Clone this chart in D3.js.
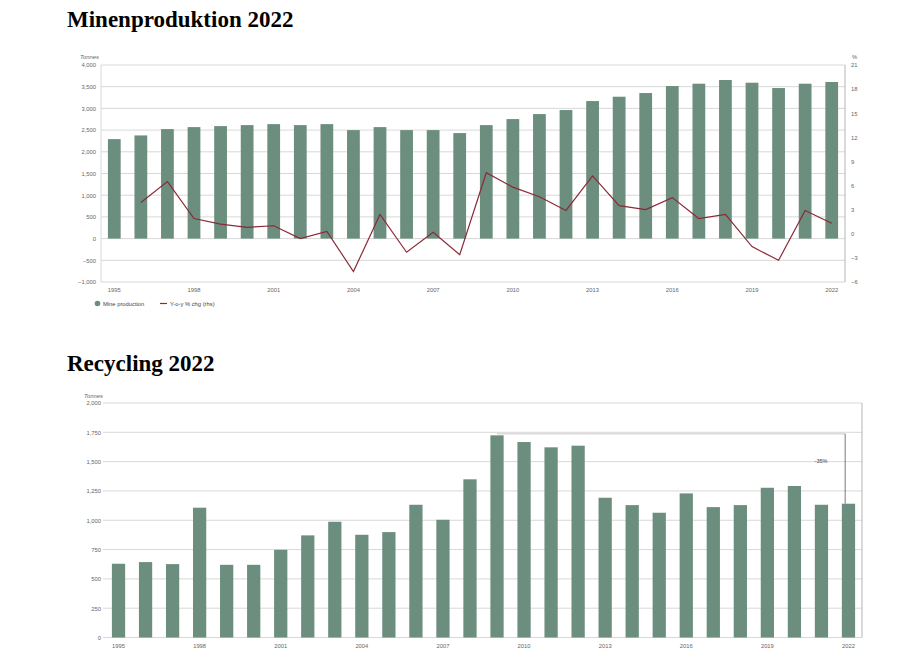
<!DOCTYPE html>
<html><head><meta charset="utf-8">
<script src="https://cdn.jsdelivr.net/npm/d3@7"></script>
<style>
body{margin:0;background:#fff;}
svg{display:block;}
.tick text{font-family:"Liberation Sans",Arial,sans-serif;}
</style></head>
<body><svg id="c" width="923" height="661"></svg>
<script>
const years = d3.range(1995, 2023).map(String);
const mineProduction = [2292,2377,2523,2569,2592,2615,2638,2615,2638,2500,2569,2500,2500,2431,2615,2754,2869,2962,3169,3269,3354,3515,3569,3654,3592,3469,3569,3608];
const yoyChange = [null,3.9,6.5,1.9,1.2,0.8,1.0,-0.6,0.3,-4.7,2.4,-2.3,0.2,-2.6,7.6,5.8,4.6,2.9,7.2,3.5,3.0,4.5,1.9,2.4,-1.6,-3.3,2.9,1.3];
const recycling = [629,643,626,1107,620,620,748,871,987,876,899,1132,1004,1349,1724,1667,1622,1636,1192,1129,1064,1229,1112,1129,1277,1292,1132,1141];
const xTickYears = ["1995","1998","2001","2004","2007","2010","2013","2016","2019","2022"];
const leftTicksTop = [-1000,-500,0,500,1000,1500,2000,2500,3000,3500,4000];
const rightTicksTop = [-6,-3,0,3,6,9,12,15,18,21];
const leftTicksBottom = [0,250,500,750,1000,1250,1500,1750,2000];
const titles = ["Minenproduktion 2022","Recycling 2022"];
const legendLabels = ["Mine production","Y-o-y % chg (rhs)"];
const annotationText = "-35%";

const BAR = "#6b8e7e", LINE = "#8a2a36", GRID = "#d8d8d8", AX = "#b5b5b5", TXT = "#666";
const FONT = "'Liberation Sans', Arial, sans-serif";
const svg = d3.select("#c");
const fmt = d3.format(",");

function title(t, x, y){
  svg.append("text").attr("x",x).attr("y",y).text(t)
    .attr("font-family","'Liberation Serif','Times New Roman',serif")
    .attr("font-weight","bold").attr("font-size",23).attr("fill","#000");
}
function styleAxis(g){
  g.select(".domain").remove();
  g.selectAll(".tick line").remove();
  g.selectAll(".tick text").attr("font-size",5.8).attr("fill",TXT).attr("font-family",FONT);
}

// ---------- Top chart ----------
title(titles[0], 67, 27);
const T = {l:101, r:845, t:65, b:282};
const xT = d3.scaleBand().domain(years).range([T.l, T.r]).paddingInner(0.52).paddingOuter(0.26);
const yL = d3.scaleLinear().domain([-1000,4000]).range([T.b, T.t]);
const yR = d3.scaleLinear().domain([-6,21]).range([T.b, T.t]);

svg.append("g").selectAll("line").data(leftTicksTop).join("line")
  .attr("x1",T.l).attr("x2",T.r).attr("y1",d=>yL(d)).attr("y2",d=>yL(d))
  .attr("stroke",GRID).attr("stroke-width",1);
svg.append("line").attr("x1",T.l).attr("x2",T.l).attr("y1",T.t).attr("y2",T.b).attr("stroke",GRID);
svg.append("line").attr("x1",T.r).attr("x2",T.r).attr("y1",T.t).attr("y2",T.b).attr("stroke",AX);

svg.append("g").selectAll("rect").data(mineProduction).join("rect")
  .attr("x",(d,i)=>xT(years[i])).attr("width",xT.bandwidth())
  .attr("y",d=>yL(d)).attr("height",d=>yL(0)-yL(d)).attr("fill",BAR);

const lineGen = d3.line().defined(d=>d.v!==null)
  .x(d=>xT(d.y)+xT.bandwidth()/2).y(d=>yR(d.v));
svg.append("path").datum(years.map((y,i)=>({y, v:yoyChange[i]})))
  .attr("d",lineGen).attr("fill","none").attr("stroke",LINE).attr("stroke-width",1.2);

svg.append("g").attr("transform",`translate(${T.l-5},0)`)
  .call(d3.axisLeft(yL).tickValues(leftTicksTop).tickFormat(fmt).tickSize(0).tickPadding(0))
  .call(styleAxis);
svg.append("g").attr("transform",`translate(${T.r+6},0)`)
  .call(d3.axisRight(yR).tickValues(rightTicksTop).tickSize(0).tickPadding(0))
  .call(styleAxis);
svg.append("g").attr("transform",`translate(0,${T.b+3})`)
  .call(d3.axisBottom(xT).tickValues(xTickYears).tickSize(0).tickPadding(3))
  .call(styleAxis);
svg.append("text").attr("x",80).attr("y",59).text("Tonnes").attr("font-size",5.8).attr("fill",TXT).attr("font-family",FONT).attr("font-style","italic");
svg.append("text").attr("x",852).attr("y",59).text("%").attr("font-size",5.8).attr("fill",TXT).attr("font-family",FONT);

// legend
svg.append("circle").attr("cx",97.5).attr("cy",303.5).attr("r",2.8).attr("fill",BAR);
svg.append("text").attr("x",103).attr("y",305.5).text(legendLabels[0]).attr("font-size",5.8).attr("fill","#444").attr("font-family",FONT);
svg.append("line").attr("x1",160).attr("x2",167).attr("y1",303.5).attr("y2",303.5).attr("stroke",LINE).attr("stroke-width",1.2);
svg.append("text").attr("x",170).attr("y",305.5).text(legendLabels[1]).attr("font-size",5.8).attr("fill","#444").attr("font-family",FONT);

// ---------- Bottom chart ----------
title(titles[1], 67, 371);
const B = {l:105, r:862, t:403, b:637.5};
const xB = d3.scaleBand().domain(years).range([B.l, B.r]).paddingInner(0.51).paddingOuter(0.255);
const yB = d3.scaleLinear().domain([0,2000]).range([B.b, B.t]);

svg.append("g").selectAll("line").data(leftTicksBottom).join("line")
  .attr("x1",103).attr("x2",B.r).attr("y1",d=>yB(d)).attr("y2",d=>yB(d))
  .attr("stroke",GRID).attr("stroke-width",1);
svg.append("line").attr("x1",B.r).attr("x2",B.r).attr("y1",B.t).attr("y2",B.b).attr("stroke",AX);

svg.append("g").selectAll("rect").data(recycling).join("rect")
  .attr("x",(d,i)=>xB(years[i])).attr("width",xB.bandwidth())
  .attr("y",d=>yB(d)).attr("height",d=>yB(0)-yB(d)).attr("fill",BAR);

svg.append("g").attr("transform",`translate(101,0)`)
  .call(d3.axisLeft(yB).tickValues(leftTicksBottom).tickFormat(fmt).tickSize(0).tickPadding(0))
  .call(styleAxis);
svg.append("g").attr("transform",`translate(0,${B.b+3})`)
  .call(d3.axisBottom(xB).tickValues(xTickYears).tickSize(0).tickPadding(3))
  .call(styleAxis);
svg.append("text").attr("x",84).attr("y",398).text("Tonnes").attr("font-size",5.8).attr("fill",TXT).attr("font-family",FONT).attr("font-style","italic");

// annotation: peak 2009 vs 2022
const peakIdx = years.indexOf("2009"), lastIdx = years.indexOf("2022");
const ax0 = xB(years[peakIdx]) + xB.bandwidth()/2;
const ax1 = xB(years[lastIdx]) + xB.bandwidth()*0.25;
const ay0 = yB(recycling[peakIdx]) - 1.5;
svg.append("line").attr("x1",ax0).attr("x2",ax1).attr("y1",ay0).attr("y2",ay0).attr("stroke","#c8c8c8").attr("stroke-width",1);
svg.append("line").attr("x1",ax1).attr("x2",ax1).attr("y1",ay0).attr("y2",yB(recycling[lastIdx])).attr("stroke","#555").attr("stroke-width",0.8);
svg.append("text").attr("x",821).attr("y",463).attr("text-anchor","middle").text(annotationText)
  .attr("font-size",5.5).attr("fill","#444").attr("font-family",FONT);
</script></body></html>
